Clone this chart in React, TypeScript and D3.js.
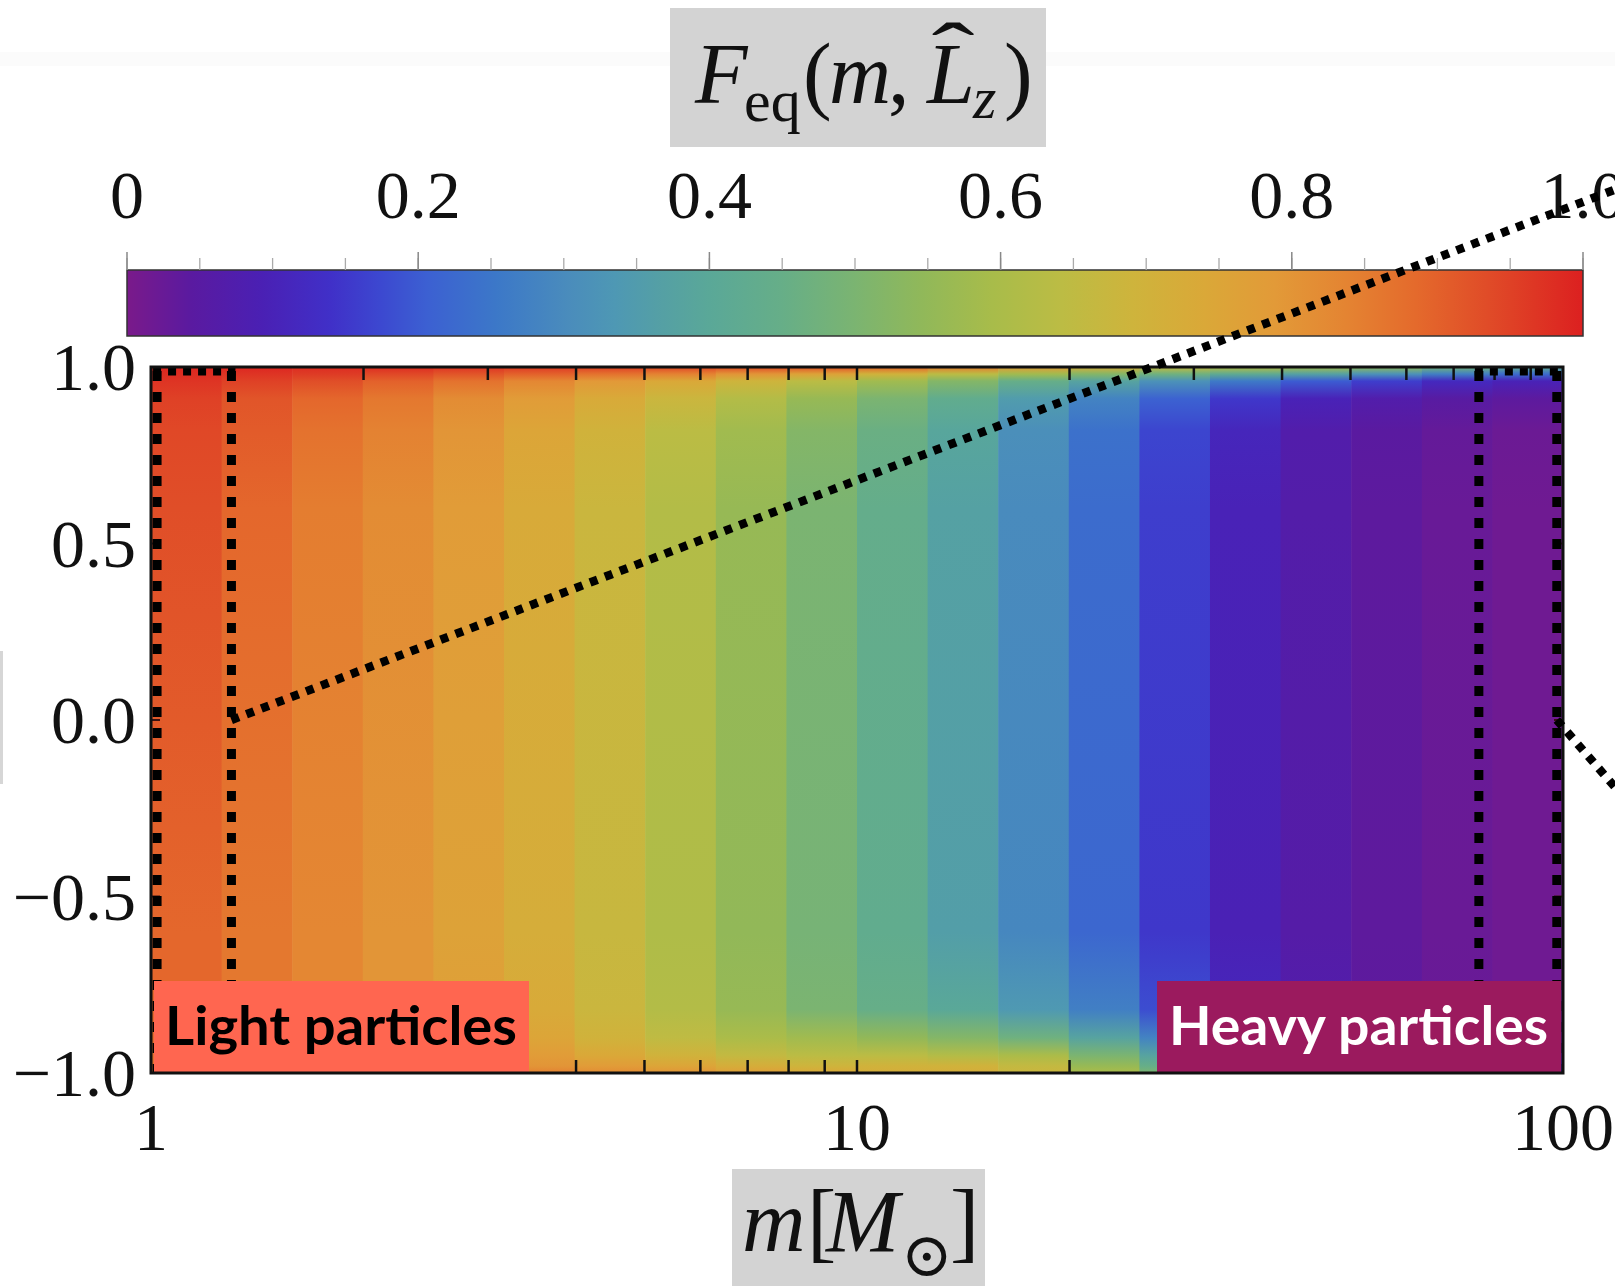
import React from "react";
import * as d3 from "d3";

const W = 1615;
const H = 1286;

// Logarithmic mass bins (solar masses): 20 columns between 1 and 100
const massBinEdges = [
  1, 1.259, 1.585, 1.995, 2.512, 3.162, 3.981, 5.012, 6.31, 7.943, 10,
  12.59, 15.85, 19.95, 25.12, 31.62, 39.81, 50.12, 63.1, 79.43, 100,
];

// Normalised angular momentum levels at which F_eq is sampled in each column
const lzLevels = [1.0, 0.98, 0.96, 0.91, 0.82, 0.6, -0.6, -0.82, -0.9, -0.95, -0.98, -1.0];

// F_eq per mass column, one array per Lz level
const fAtLzP100 = [0.99, 0.99, 0.98, 0.98, 0.97, 0.96, 0.95, 0.94, 0.93, 0.92, 0.89, 0.85, 0.78, 0.72, 0.66, 0.62, 0.58, 0.54, 0.48, 0.42];
const fAtLzP098 = [0.98, 0.97, 0.96, 0.94, 0.92, 0.9, 0.87, 0.84, 0.8, 0.76, 0.7, 0.64, 0.58, 0.52, 0.47, 0.42, 0.37, 0.32, 0.27, 0.23];
const fAtLzP096 = [0.97, 0.95, 0.93, 0.9, 0.87, 0.83, 0.79, 0.74, 0.69, 0.64, 0.58, 0.52, 0.45, 0.38, 0.32, 0.26, 0.2, 0.16, 0.12, 0.1];
const fAtLzP091 = [0.95, 0.92, 0.89, 0.86, 0.82, 0.78, 0.73, 0.68, 0.62, 0.56, 0.5, 0.43, 0.35, 0.28, 0.21, 0.15, 0.1, 0.07, 0.05, 0.04];
const fAtLzP082 = [0.94, 0.91, 0.87, 0.84, 0.8, 0.75, 0.7, 0.64, 0.58, 0.52, 0.46, 0.39, 0.31, 0.24, 0.17, 0.11, 0.07, 0.045, 0.03, 0.02];
const fAtLzP060 = [0.93, 0.89, 0.85, 0.82, 0.78, 0.73, 0.68, 0.62, 0.56, 0.5, 0.44, 0.37, 0.3, 0.23, 0.16, 0.1, 0.065, 0.04, 0.025, 0.015];
const fAtLzM060 = [0.89, 0.86, 0.83, 0.8, 0.76, 0.72, 0.67, 0.61, 0.55, 0.49, 0.43, 0.36, 0.29, 0.22, 0.15, 0.095, 0.06, 0.038, 0.024, 0.015];
const fAtLzM082 = [0.89, 0.86, 0.83, 0.8, 0.77, 0.73, 0.68, 0.62, 0.56, 0.5, 0.45, 0.4, 0.34, 0.27, 0.18, 0.11, 0.07, 0.04, 0.025, 0.015];
const fAtLzM090 = [0.88, 0.86, 0.83, 0.8, 0.78, 0.75, 0.7, 0.65, 0.6, 0.58, 0.55, 0.52, 0.47, 0.38, 0.28, 0.18, 0.1, 0.06, 0.035, 0.02];
const fAtLzM095 = [0.87, 0.86, 0.84, 0.82, 0.8, 0.78, 0.74, 0.7, 0.66, 0.64, 0.64, 0.62, 0.6, 0.5, 0.38, 0.26, 0.16, 0.1, 0.06, 0.04];
const fAtLzM098 = [0.87, 0.86, 0.85, 0.84, 0.82, 0.8, 0.78, 0.75, 0.72, 0.69, 0.7, 0.7, 0.66, 0.56, 0.45, 0.34, 0.24, 0.16, 0.11, 0.08];
const fAtLzM100 = [0.87, 0.86, 0.86, 0.85, 0.84, 0.84, 0.82, 0.8, 0.77, 0.74, 0.72, 0.72, 0.68, 0.6, 0.5, 0.4, 0.3, 0.24, 0.18, 0.14];

const fRows = [
  fAtLzP100, fAtLzP098, fAtLzP096, fAtLzP091, fAtLzP082, fAtLzP060,
  fAtLzM060, fAtLzM082, fAtLzM090, fAtLzM095, fAtLzM098, fAtLzM100,
];

// Rainbow colour function
const colorStopValues = [0, 0.044, 0.093, 0.14, 0.174, 0.206, 0.254, 0.303, 0.335, 0.368, 0.4, 0.449, 0.498, 0.545, 0.594, 0.642, 0.69, 0.74, 0.788, 0.837, 0.885, 0.934, 1.0];
const colorStopColors = [
  "#7a1a8a", "#5a1aa0", "#4a20b4", "#4030c8", "#3c48d0", "#3c60d2", "#3c78c8",
  "#4a8cbc", "#4e98b4", "#55a0a4", "#5aa898", "#66ae88", "#7ab472", "#90b85a",
  "#a8bc4a", "#bcbc44", "#ceb43c", "#daa838", "#e29a38", "#e48432", "#e46a2c",
  "#e04c28", "#dc2020",
];

// Axis ticks
const colorbarTicks = [0, 0.2, 0.4, 0.6, 0.8, 1.0];
const colorbarTickLabels = ["0", "0.2", "0.4", "0.6", "0.8", "1.0"];
const lzTicks = [1.0, 0.5, 0.0, -0.5, -1.0];
const lzTickLabels = ["1.0", "0.5", "0.0", "\u22120.5", "\u22121.0"];
const massTicks = [1, 10, 100];
const massTickLabels = ["1", "10", "100"];
const massMinorTicks = [2, 3, 4, 5, 6, 7, 8, 9, 20, 30, 40, 50, 60, 70, 80, 90];

// Highlighted mass ranges
const lightRange = [1.02, 1.3];
const heavyRange = [76, 98];

const SERIF = "'Liberation Serif', 'Times New Roman', serif";
const SANS = "Lato, 'Open Sans', sans-serif";

export default function App() {
  const x = d3.scaleLog().domain([1, 100]).range([151, 1563]);
  const y = d3.scaleLinear().domain([-1, 1]).range([1073, 367]);
  const cb = d3.scaleLinear().domain([0, 1]).range([127, 1583]);
  const color = d3
    .scaleLinear<string>()
    .domain(colorStopValues)
    .range(colorStopColors)
    .interpolate(d3.interpolateRgb);

  const cbTop = 270;
  const cbBottom = 336;
  const plotTop = y(1);
  const plotBottom = y(-1);
  const plotH = plotBottom - plotTop;

  const columns = d3.range(massBinEdges.length - 1);
  const minorCb = d3.range(0, 1.0001, 0.05);

  const dotTop = plotTop + 4;

  return (
    <svg width={W} height={H} viewBox={`0 0 ${W} ${H}`} style={{ display: "block", position: "absolute", left: 0, top: 0, background: "#fff" }}>
      <defs>
        <linearGradient id="cbGrad" x1="0" y1="0" x2="1" y2="0">
          {colorStopValues.map((v, i) => (
            <stop key={i} offset={v} stopColor={colorStopColors[i]} />
          ))}
        </linearGradient>
        {columns.map((c) => (
          <linearGradient key={c} id={`col${c}`} x1="0" y1="0" x2="0" y2="1">
            {lzLevels.map((lz, k) => (
              <stop key={k} offset={(y(lz) - plotTop) / plotH} stopColor={color(fRows[k][c])} />
            ))}
          </linearGradient>
        ))}
      </defs>

      <rect x={0} y={0} width={W} height={H} fill="#fff" />
      {/* faint band across the top */}
      <rect x={0} y={52} width={W} height={14} fill="#fbfbfb" />
      {/* edge of the vertical axis title box */}
      <rect x={0} y={651} width={3} height={133} fill="#d6d6d6" />

      {/* title */}
      <rect x={670} y={8} width={376} height={139} fill="#d3d3d3" />
      <g fontFamily={SERIF} fill="#111">
        <text x={695} y={103} fontSize={86} fontStyle="italic">F</text>
        <text x={744} y={121} fontSize={60}>eq</text>
        <text x={803} y={103} fontSize={86}>(</text>
        <text x={829} y={103} fontSize={86} fontStyle="italic">m</text>
        <text x={888} y={103} fontSize={86}>,</text>
        <text x={927} y={103} fontSize={86} fontStyle="italic">L</text>
        <text transform="translate(953,80) scale(1.35,0.85)" x={0} y={0} fontSize={96} textAnchor="middle">{"\u02C6"}</text>
        <text x={973} y={118} fontSize={60} fontStyle="italic">z</text>
        <text x={1004} y={103} fontSize={86}>)</text>
      </g>

      {/* colour bar */}
      <rect x={cb(0)} y={cbTop} width={cb(1) - cb(0)} height={cbBottom - cbTop} fill="url(#cbGrad)" stroke="#333" strokeWidth={1.5} />
      {minorCb.map((v, i) => (
        <line key={i} x1={cb(v)} x2={cb(v)} y1={cbTop} y2={cbTop - 12} stroke="#aaa" strokeWidth={1.3} />
      ))}
      {colorbarTicks.map((v, i) => (
        <line key={i} x1={cb(v)} x2={cb(v)} y1={cbTop} y2={cbTop - 18} stroke="#888" strokeWidth={1.5} />
      ))}
      {colorbarTicks.map((v, i) => (
        <text key={i} x={cb(v)} y={218} fontFamily={SERIF} fontSize={68} textAnchor="middle" fill="#111">
          {colorbarTickLabels[i]}
        </text>
      ))}

      {/* density map */}
      {columns.map((c) => (
        <rect
          key={c}
          x={x(massBinEdges[c])}
          y={plotTop}
          width={x(massBinEdges[c + 1]) - x(massBinEdges[c]) + 0.6}
          height={plotH}
          fill={`url(#col${c})`}
        />
      ))}

      {/* inner ticks */}
      {massMinorTicks.concat([10]).map((m, i) => (
        <g key={i} stroke="#111" strokeWidth={2.5}>
          <line x1={x(m)} x2={x(m)} y1={plotTop} y2={plotTop + 13} />
          <line x1={x(m)} x2={x(m)} y1={plotBottom} y2={plotBottom - 13} />
        </g>
      ))}
      {[0.5, 0, -0.5].map((v, i) => (
        <g key={i} stroke="#3a1010" strokeWidth={2}>
          <line x1={x(1)} x2={x(1) + 9} y1={y(v)} y2={y(v)} />
          <line x1={x(100)} x2={x(100) - 9} y1={y(v)} y2={y(v)} />
        </g>
      ))}

      {/* highlighted mass ranges */}
      {[lightRange, heavyRange].map((r, i) => (
        <g key={i} stroke="#000" strokeWidth={9} fill="none">
          <line x1={x(r[0])} x2={x(r[0])} y1={dotTop} y2={plotBottom} strokeDasharray="10 11" />
          <line x1={x(r[1])} x2={x(r[1])} y1={dotTop} y2={plotBottom} strokeDasharray="10 11" />
          <line x1={x(r[0]) - 4} x2={x(r[1]) + 4} y1={dotTop} y2={dotTop} strokeDasharray="8 7" />
        </g>
      ))}

      {/* labels of the highlighted ranges */}
      <rect x={154} y={981} width={375} height={91} fill="#ff6650" />
      <text x={165} y={1045} fontFamily={SANS} fontWeight={700} fontSize={54} fill="#000" textLength={352} lengthAdjust="spacingAndGlyphs">
        Light particles
      </text>
      <rect x={1157} y={981} width={404} height={91} fill="#9b1a5e" />
      <text x={1169} y={1045} fontFamily={SANS} fontWeight={700} fontSize={54} fill="#fff" textLength={379} lengthAdjust="spacingAndGlyphs">
        Heavy particles
      </text>

      {/* frame */}
      <rect x={x(1)} y={plotTop} width={x(100) - x(1)} height={plotH} fill="none" stroke="#111" strokeWidth={3} />

      {/* call-out lines */}
      <line x1={x(lightRange[1])} y1={y(0)} x2={1640} y2={180} stroke="#000" strokeWidth={8.5} strokeDasharray="8 8" />
      <line x1={x(heavyRange[1])} y1={y(0)} x2={1640} y2={816} stroke="#000" strokeWidth={8.5} strokeDasharray="8 8" />

      {/* vertical axis */}
      {lzTicks.map((v, i) => (
        <text key={i} x={136} y={y(v) + 23} fontFamily={SERIF} fontSize={68} textAnchor="end" fill="#111">
          {lzTickLabels[i]}
        </text>
      ))}

      {/* mass axis */}
      {massTicks.map((m, i) => (
        <text key={i} x={x(m)} y={1150} fontFamily={SERIF} fontSize={68} textAnchor="middle" fill="#111">
          {massTickLabels[i]}
        </text>
      ))}

      <rect x={732} y={1169} width={253} height={117} fill="#d3d3d3" />
      <g fontFamily={SERIF} fill="#111">
        <text x={742} y={1251} fontSize={88} fontStyle="italic">m</text>
        <text x={807} y={1251} fontSize={88}>[</text>
        <text x={826} y={1251} fontSize={88} fontStyle="italic">M</text>
        <text x={927} y={1276} fontSize={62} textAnchor="middle" fontFamily="'DejaVu Serif', serif">{"\u2299"}</text>
        <text x={950} y={1251} fontSize={88}>]</text>
      </g>
    </svg>
  );
}
